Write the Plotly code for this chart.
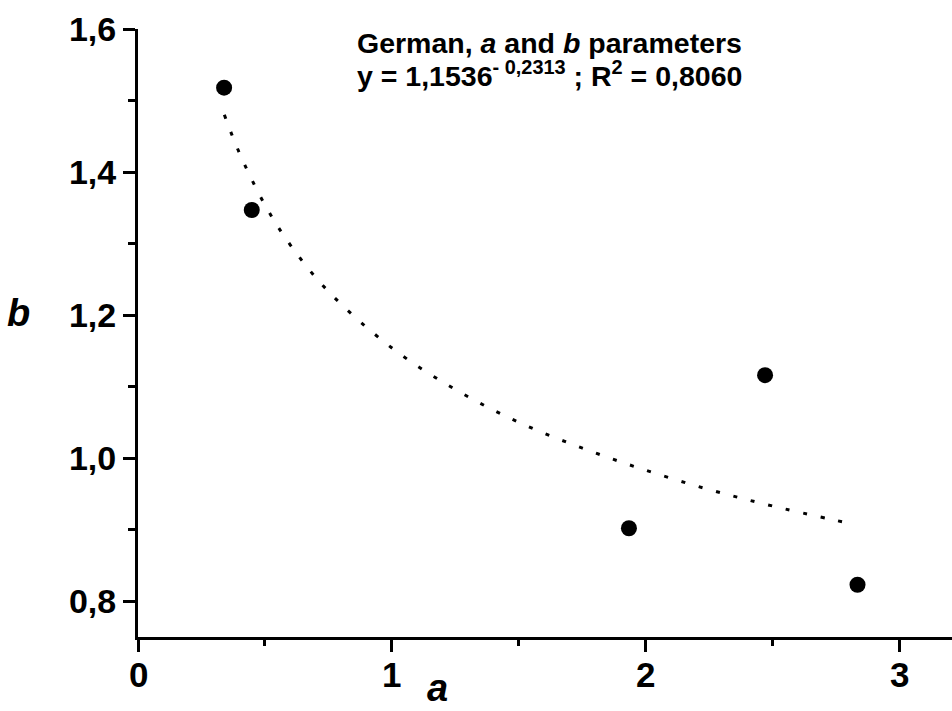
import plotly.graph_objects as go

# Data points (a, b)
a_vals = [0.339, 0.448, 1.933, 2.469, 2.833]
b_vals = [1.518, 1.347, 0.902, 1.116, 0.823]

# Power-law trend line (y = 1.1536 x^-0.2313)
fit_x = [0.34, 0.40, 0.50, 0.60, 0.75, 1.00, 1.25, 1.50, 1.75, 2.00, 2.25, 2.50, 2.80]
fit_y = [1.480, 1.426, 1.354, 1.298, 1.233, 1.154, 1.096, 1.050, 1.014, 0.983, 0.956, 0.933, 0.909]

x_tickvals = [0, 1, 2, 3]
x_ticktext = ["0", "1", "2", "3"]
y_tickvals = [0.8, 1.0, 1.2, 1.4, 1.6]
y_ticktext = ["0,8", "1,0", "1,2", "1,4", "1,6"]

FONT = "Liberation Sans, Arial, sans-serif"

fig = go.Figure()
fig.add_trace(go.Scatter(
    x=fit_x, y=fit_y, mode="lines",
    line=dict(color="black", width=3, dash="4px,14px", shape="spline"),
    hoverinfo="skip", showlegend=False))
fig.add_trace(go.Scatter(
    x=a_vals, y=b_vals, mode="markers",
    marker=dict(color="black", size=16),
    showlegend=False))

L, T, W, H = 138, 29, 952, 711
B = 637
pw, ph = W - L, B - T

def px(xp):
    return (xp - L) / pw

def py(yp):
    return (B - yp) / ph

fig.update_layout(
    width=W, height=H,
    margin=dict(l=L, r=0, t=T, b=H - B, pad=0),
    plot_bgcolor="white", paper_bgcolor="white",
    font=dict(family=FONT, color="black"),
    xaxis=dict(range=[0, 3.205], showline=True, linewidth=3, linecolor="black",
               ticks="outside", ticklen=12, tickwidth=3, tickcolor="black",
               tickmode="array", tickvals=x_tickvals, showticklabels=False,
               minor=dict(ticks="outside", ticklen=6, tickwidth=3, tickcolor="black", dtick=0.5, tick0=0),
               showgrid=False, zeroline=False),
    yaxis=dict(range=[0.75, 1.6], showline=True, linewidth=3, linecolor="black",
               ticks="outside", ticklen=12, tickwidth=3, tickcolor="black",
               tickmode="array", tickvals=y_tickvals, ticktext=y_ticktext,
               tickfont=dict(size=34, family=FONT, weight="bold"),
               minor=dict(ticks="outside", ticklen=7, tickwidth=3, tickcolor="black", dtick=0.1, tick0=0.8),
               showgrid=False, zeroline=False),
)

annotations = [
    dict(text="<b><i>b</i></b>", x=px(18), y=py(313), font=dict(size=38)),
    dict(text="<b><i>a</i></b>", x=px(437), y=py(688), font=dict(size=38)),
    dict(text="<b>German, <i>a</i> and <i>b</i> parameters</b>", x=px(355), y=py(43),
         xanchor="left", font=dict(size=28.5)),
    dict(text="<b>y = 1,1536<sup>- 0,2313</sup> ; R<sup>2</sup> = 0,8060</b>", x=px(355), y=py(74),
         xanchor="left", font=dict(size=28.5)),
]
for an in annotations:
    an.setdefault("xanchor", "center")
    an.update(xref="paper", yref="paper", yanchor="middle", showarrow=False)
    an["font"].update(family=FONT, color="black")
    fig.add_annotation(**an)

# x tick labels placed close to the axis as in the reference
for xv, xt in zip(x_tickvals, x_ticktext):
    fig.add_annotation(text=f"<b>{xt}</b>", x=xv, xref="x", y=py(674), yref="paper",
                       xanchor="center", yanchor="middle", showarrow=False,
                       font=dict(size=35, family=FONT, color="black"))

fig.write_html("out.html")
